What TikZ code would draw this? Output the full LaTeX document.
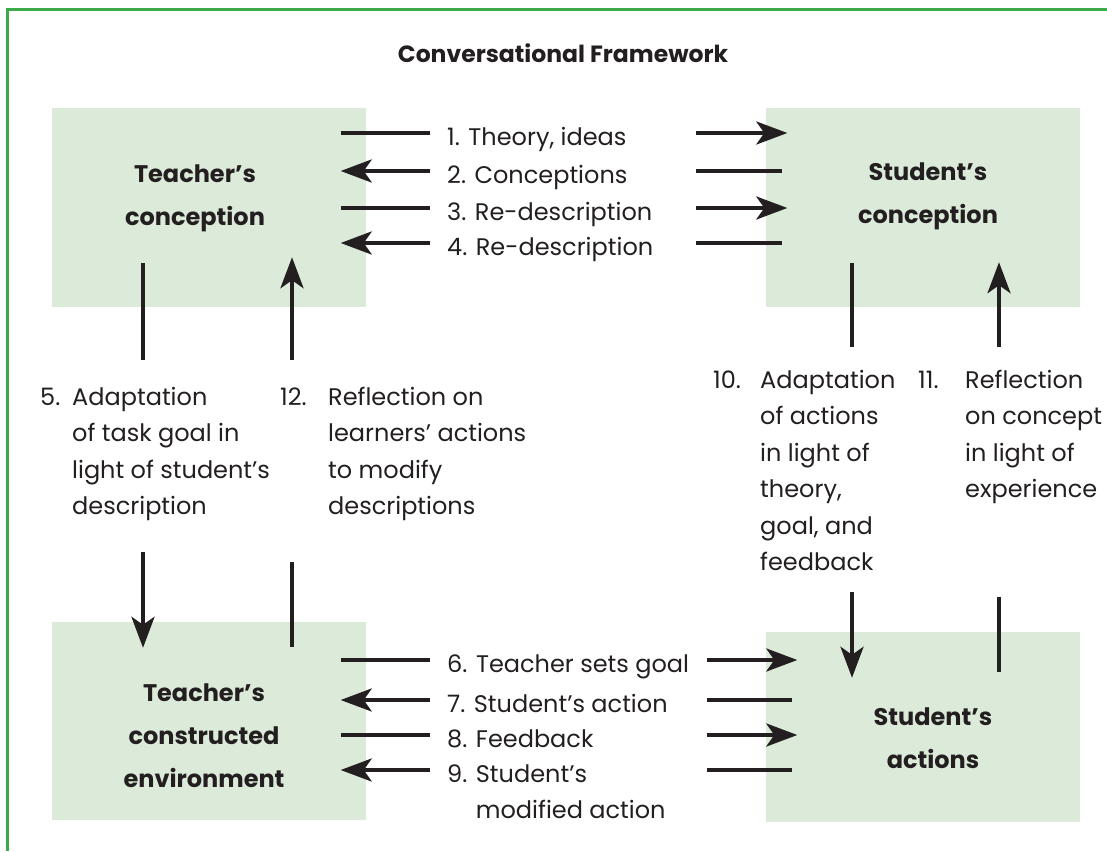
\documentclass[tikz,border=0pt]{standalone}
\usepackage{fontspec}
\setmainfont{Poppins}
\usetikzlibrary{arrows.meta,positioning}
\definecolor{boxgreen}{RGB}{220,235,217}
\definecolor{framegreen}{RGB}{59,170,75}
\definecolor{ink}{RGB}{35,31,32}
\newcommand{\stack}[1]{\begin{tabular}[t]{@{}l@{}}#1\end{tabular}}

\begin{document}
\begin{tikzpicture}[x=1pt,y=-1pt,
	box/.style={fill=boxgreen,minimum width=314pt,minimum height=199pt,inner sep=0pt},
	head/.style={align=center,inner sep=0pt,text=ink,font=\bfseries\fontsize{24}{43}\selectfont},
	lbl/.style={anchor=base west,inner sep=0pt,text=ink,font=\fontsize{24}{36.5}\selectfont},
	seg/.style={draw=ink,line width=4pt},
	arr/.style={seg,-{Stealth[length=31pt,width=23pt,inset=8pt]}},
	rarr/.style={seg,{Stealth[length=31pt,width=23pt,inset=8pt]}-}]
\useasboundingbox (0,0) rectangle (1107,851);
\draw[framegreen,line width=3pt] (7,851) -- (7,10) -- (1107,10);
\node[head,font=\bfseries\fontsize{23.5}{30}\selectfont] (ttl) at (563,53) {Conversational Framework};

% the four boxes
\node[box] (tc) at (208.5,207.5) {};
\node[box] (sc) at (922.5,207.5) {};
\node[box,minimum height=198pt] (te) at (208.5,721) {};
\node[box,minimum height=190pt] (sa) at (922.5,727) {};
\node[head] (tct) at (195,198) {Teacher's\\conception};
\node[head] (sct) at (928,196) {Student's\\conception};
\node[head] (tet) at (204,736) {Teacher's\\constructed\\environment};
\node[head] (sat) at (933,738) {Student's\\actions};

% exchanges between the conceptions
\node[lbl] (l1) at (447,145) {1. Theory, ideas};
\node[lbl] (l2) at (447,183) {2. Conceptions};
\node[lbl] (l3) at (447,220) {3. Re-description};
\node[lbl] (l4) at (447,255) {4. Re-description};
\foreach \y/\ls/\rs/\rl in {133/seg/arr/91,171/rarr/seg/86,208/seg/arr/91,243/rarr/seg/86}{
	\draw[\ls] ([xshift=-25pt]tc.east |- 0,\y) -- ++(89,0);
	\draw[\rs] ([xshift=-69pt]sc.west |- 0,\y) -- ++(\rl,0);
}

% exchanges between environment and actions
\node[lbl] (l6) at (447,672) {6. Teacher sets goal};
\node[lbl] (l7) at (447,712) {7. Student's action};
\node[lbl] (l8) at (447,747) {8. Feedback};
\node[lbl] (l9) at (447,782) {\stack{9. Student's\\\phantom{9. }modified action}};
\foreach \y/\ls/\rs/\rl in {660/seg/arr/90,700/rarr/seg/85,735/seg/arr/90,770/rarr/seg/85}{
	\draw[\ls] ([xshift=-25pt]te.east |- 0,\y) -- ++(89,0);
	\draw[\rs] ([xshift=-58pt]sa.west |- 0,\y) -- ++(\rl,0);
}

% teacher side
\node[lbl] (n5) at (40,405) {5.};
\node[lbl] (l5) at (72,405) {\stack{Adaptation\\of task goal in\\light of student's\\description}};
\node[lbl] (n12) at (280,405) {12.};
\node[lbl] (l12) at (328,405) {\stack{Reflection on\\learners' actions\\to modify\\descriptions}};
\draw[seg] ([yshift=44pt]tc.south -| 143,0) -- ([yshift=-53pt]tc.south -| 143,0);
\draw[arr] ([yshift=70pt]te.north -| 143,0) -- ([yshift=-26pt]te.north -| 143,0);
\draw[arr] ([yshift=-53pt]tc.south -| 292,0) -- ([yshift=50pt]tc.south -| 292,0);
\draw[seg] ([yshift=60pt]te.north -| 292,0) -- ([yshift=-25pt]te.north -| 292,0);

% student side
\node[lbl] (n10) at (713,388) {10.};
\node[lbl] (l10) at (760,388) {\stack{Adaptation\\of actions\\in light of\\theory,\\goal, and\\feedback}};
\node[lbl] (n11) at (918,388) {11.};
\node[lbl] (l11) at (965,388) {\stack{Reflection\\on concept\\in light of\\experience}};
\draw[seg] ([yshift=44pt]sc.south -| 852,0) -- ([yshift=-40pt]sc.south -| 852,0);
\draw[arr] ([yshift=40pt]sa.north -| 852,0) -- ([yshift=-46pt]sa.north -| 852,0);
\draw[arr] ([yshift=-40pt]sc.south -| 999,0) -- ([yshift=45pt]sc.south -| 999,0);
\draw[seg] ([yshift=35pt]sa.north -| 999,0) -- ([yshift=-40pt]sa.north -| 999,0);
\end{tikzpicture}
\end{document}
